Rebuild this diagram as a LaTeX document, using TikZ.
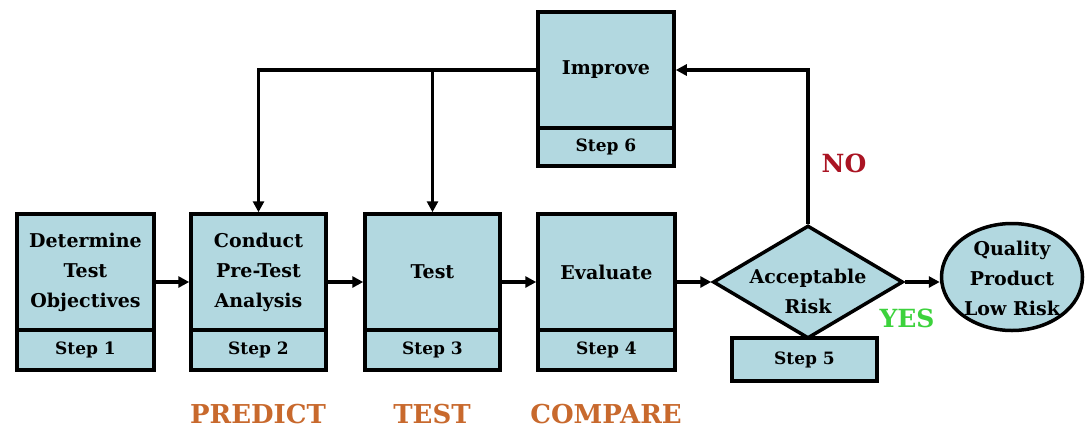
\documentclass[tikz,border=0pt]{standalone}
\usepackage{fontspec}
\setmainfont{DejaVu Serif}
\usetikzlibrary{shapes.geometric,arrows.meta}
\definecolor{boxfill}{RGB}{178,216,224}
\definecolor{lblorange}{RGB}{200,105,45}
\definecolor{nored}{RGB}{170,20,35}
\definecolor{yesgreen}{RGB}{60,210,60}
\tikzset{
  boxfont/.style={font=\bfseries\fontsize{19}{30}\selectfont},
  topbox/.style={draw=black, line width=3.5pt, fill=boxfill, minimum width=#1, minimum height=116pt, inner sep=0pt, align=center, boxfont},
  stepbox/.style={draw=black, line width=3.5pt, fill=boxfill, minimum width=#1, minimum height=40pt, inner sep=0pt, font=\bfseries\fontsize{17}{20}\selectfont},
  conn/.style={line width=3.5pt, -{Triangle[length=11pt,width=11pt]}},
  phase/.style={text=lblorange, font=\bfseries\fontsize{26}{30}\selectfont},
}
\begin{document}
\begin{tikzpicture}[x=1pt,y=-1pt]
\useasboundingbox (0,0) rectangle (1086,437);
% main boxes
\node[topbox=137pt] (b1) at (85.5,272) {Determine\\Test\\Objectives};
\node[stepbox=137pt] (s1) at (85.5,350) {Step 1};
\node[topbox=135pt] (b2) at (258.5,272) {Conduct\\Pre-Test\\Analysis};
\node[stepbox=135pt] (s2) at (258.5,350) {Step 2};
\node[topbox=135pt] (b3) at (432.5,272) {Test};
\node[stepbox=135pt] (s3) at (432.5,350) {Step 3};
\node[topbox=137pt] (b4) at (606.5,272) {Evaluate};
\node[stepbox=137pt] (s4) at (606.5,350) {Step 4};
\node[topbox=136pt] (b6) at (606,70) {Improve};
\node[stepbox=136pt, minimum height=38pt] (s6) at (606,147) {Step 6};
% decision
\node[stepbox=145pt, minimum height=43pt] (s5) at (804.5,359.5) {Step 5};
\node[draw=black, line width=3.5pt, fill=boxfill, diamond, aspect=1.68, minimum width=190pt, minimum height=113pt, inner sep=0pt] (dia) at (808,282) {};
\node[align=center, boxfont] (diat) at (808,291) {Acceptable\\Risk};
\node[draw=black, line width=3.5pt, fill=boxfill, ellipse, minimum width=141pt, minimum height=107pt, inner sep=0pt, align=center, boxfont] (q) at (1012,277) {};
\node[align=center, boxfont] (qt) at (1012,278) {Quality\\Product\\Low Risk};
% flow arrows
\draw[conn] ([yshift=-10pt]b1.east) -- ([yshift=-10pt]b2.west);
\draw[conn] ([yshift=-10pt]b2.east) -- ([yshift=-10pt]b3.west);
\draw[conn] ([yshift=-10pt]b3.east) -- ([yshift=-10pt]b4.west);
\draw[conn] ([yshift=-10pt]b4.east) -- (dia.west);
\draw[conn] (dia.east) -- (dia.east -| q.west);
% feedback
\draw[conn] (dia.north) |- (b6.east);
\coordinate (j3) at (b3.north |- b6.west);
\draw[conn] (b6.west) -| (b2.north);
\draw[conn] (j3) -- (b3.north);
% labels
\node[text=nored, font=\bfseries\fontsize{25}{28}\selectfont] (no) at (844,163) {NO};
\node[text=yesgreen, font=\bfseries\fontsize{25}{28}\selectfont] (yes) at (907,318) {YES};
\node[phase] (predict) at (258,414) {PREDICT};
\node[phase] (test) at (432,414) {TEST};
\node[phase] (compare) at (606,414) {COMPARE};
\end{tikzpicture}
\end{document}
